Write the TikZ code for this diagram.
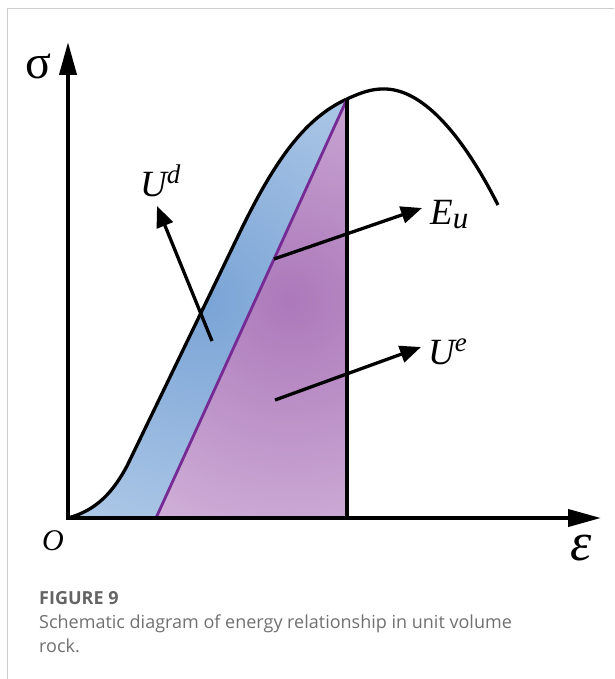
\documentclass[tikz,border=0pt]{standalone}
\usepackage{fontspec}
\setmainfont{Liberation Serif}
\newfontfamily\capfont{Open Sans}
\usetikzlibrary{arrows.meta}
\definecolor{RockBlue}{RGB}{122,164,214}
\definecolor{RockBlueLight}{RGB}{208,224,242}
\definecolor{RockPurple}{RGB}{172,120,186}
\definecolor{RockPurpleLight}{RGB}{230,212,235}
\definecolor{RockLine}{RGB}{118,42,148}
\definecolor{FrameGray}{RGB}{205,205,205}
\definecolor{CapGray}{RGB}{100,100,100}
\definecolor{CapTextGray}{RGB}{112,112,112}

\begin{document}
\begin{tikzpicture}[
    x=1pt, y=-1pt,
    every node/.style={inner sep=0pt},
    axis/.style={line width=4pt, -{Triangle[length=33pt, width=17pt]}},
    curve/.style={line width=3.3pt},
    unload/.style={line width=2.8pt, color=RockLine},
    pointer/.style={line width=3.3pt, -{Triangle[length=21pt, width=17pt]}},
    lbl/.style={font=\fontsize{37}{37}\selectfont\itshape},
    capfig/.style={font=\capfont\fontsize{18}{20}\selectfont\bfseries, text=CapGray},
    captext/.style={font=\capfont\fontsize{18}{20}\selectfont, text=CapTextGray}
]
\useasboundingbox (0,0) rectangle (614,679);

% --- Frame --------------------------------------------------------------
\draw[FrameGray, line width=1pt] (7,679) -- (7,8.5) -- (614,8.5);

% --- Key points ---------------------------------------------------------
\coordinate (O)    at (68,518);
\coordinate (top)  at (347,99);
\coordinate (foot) at (156,518);
\coordinate (base) at (347,518);
\coordinate (xtip) at (601,518);
\coordinate (ytip) at (68,42);

% --- Energy areas -------------------------------------------------------
\begin{scope}
  \clip (O) .. controls (98,510) and (114,490) .. (127,466) -- (240,232)
        .. controls (275,160) and (305,118) .. (top) -- (foot) -- cycle;
  \shade[inner color=RockBlue, outer color=RockBlueLight] (205,300) circle (420);
\end{scope}
\begin{scope}
  \clip (foot) -- (top) -- (base) -- cycle;
  \shade[inner color=RockPurple, outer color=RockPurpleLight] (290,300) circle (420);
\end{scope}

% --- Stress-strain curve ------------------------------------------------
\draw[curve] (O) .. controls (98,510) and (114,490) .. (127,466) -- (240,232)
      .. controls (275,160) and (305,118) .. (top)
      .. controls (362,92) and (372,89) .. (383,89)
      .. controls (420,88) and (460,130) .. (498,205);
\draw[unload] (foot) -- (top);
\draw[curve] (base) -- (top);

% --- Axes ---------------------------------------------------------------
\draw[axis] ([xshift=-2pt]O) -- (xtip);
\draw[axis] ([yshift=2pt]O) -- (ytip);

% --- Labels -------------------------------------------------------------
\node[font=\fontsize{48}{48}\selectfont] (sigma) at (38,66) {σ};
\node[font=\fontsize{30}{30}\selectfont\itshape] (origin) at (53,541) {O};
\node[font=\fontsize{54}{54}\selectfont\itshape] (strain) at (581,548) {ε};
\node[lbl, anchor=base west] (ud) at (140,196) {U\raisebox{13pt}{\fontsize{27}{27}\selectfont d}};
\node[lbl, anchor=base west] (eu) at (430,224) {E\raisebox{-4pt}{\fontsize{31}{31}\selectfont u}};
\node[lbl, anchor=base west] (ue) at (428,364) {U\raisebox{13pt}{\fontsize{27}{27}\selectfont e}};

% --- Pointers -----------------------------------------------------------
\coordinate (udtail) at (212,341);
\coordinate (udtip)  at (157,206);
\coordinate (eutail) at (274,259);
\coordinate (eutip)  at (422,208);
\coordinate (uetail) at (275,400);
\coordinate (uetip)  at (421,347);
\draw[pointer] (udtail) -- (udtip);
\draw[pointer] (eutail) -- (eutip);
\draw[pointer] (uetail) -- (uetip);

% --- Caption ------------------------------------------------------------
\node[capfig, anchor=base west]  (figno) at (39,604) {FIGURE 9};
\node[captext, anchor=base west] (cap1)  at (39,628)
      {Schematic diagram of energy relationship in unit volume};
\node[captext, anchor=base west] (cap2)  at (39,652) {rock.};
\end{tikzpicture}
\end{document}
